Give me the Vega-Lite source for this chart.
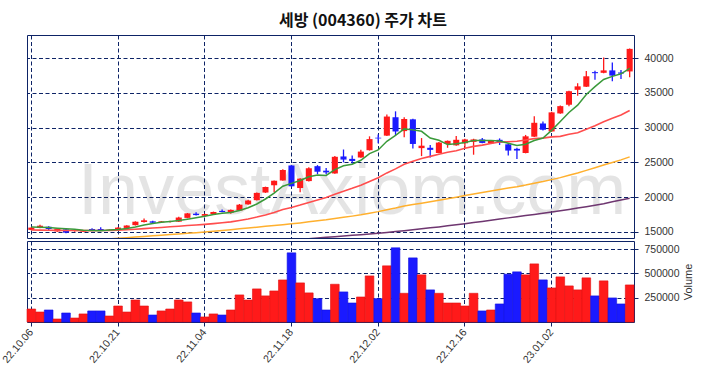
{
  "$schema": "https://vega.github.io/schema/vega-lite/v6.json",
  "padding": {"left": 0, "top": 12, "right": 2, "bottom": 2},
  "title": {"text": "세방 (004360) 주가 차트", "anchor": "middle", "dx": 16, "font": "Noto Sans CJK KR", "fontSize": 16, "fontWeight": "bold", "color": "#111", "offset": 6},
  "config": {
    "view": {"stroke": "#0d2366", "strokeWidth": 1},
    "axis": {"labelFont": "Liberation Sans", "labelFontSize": 10.5, "labelColor": "#333", "gridColor": "#0d2366", "gridDash": [4, 2.5], "gridWidth": 1, "gridOpacity": 1, "domain": false, "tickColor": "#0d2366", "titleFont": "Liberation Sans", "titleFontWeight": "normal", "titleFontSize": 11, "titleColor": "#333"}
  },
  "datasets": {
    "px": [
      {"d":"22.10.06","o":15270,"h":15650,"l":15200,"c":15600,"v":134000,"m5":15700,"m20":15250,"m60":null,"m120":null},
      {"d":"22.10.07","o":15550,"h":16000,"l":15500,"c":15870,"v":103000,"m5":15650,"m20":15230,"m60":null,"m120":null},
      {"d":"22.10.11","o":15720,"h":15800,"l":15150,"c":15400,"v":124000,"m5":15600,"m20":15210,"m60":null,"m120":null},
      {"d":"22.10.12","o":15050,"h":15500,"l":15000,"c":15450,"v":31000,"m5":15520,"m20":15200,"m60":null,"m120":null},
      {"d":"22.10.13","o":15340,"h":15400,"l":14800,"c":14870,"v":93000,"m5":15438,"m20":15180,"m60":null,"m120":null},
      {"d":"22.10.14","o":15100,"h":15300,"l":15000,"c":15250,"v":41000,"m5":15368,"m20":15170,"m60":null,"m120":null},
      {"d":"22.10.17","o":15000,"h":15200,"l":14950,"c":15150,"v":83000,"m5":15224,"m20":15160,"m60":null,"m120":null},
      {"d":"22.10.18","o":15400,"h":15500,"l":15200,"c":15250,"v":114000,"m5":15194,"m20":15160,"m60":null,"m120":null},
      {"d":"22.10.19","o":15400,"h":15650,"l":15200,"c":15250,"v":114000,"m5":15154,"m20":15170,"m60":13880,"m120":null},
      {"d":"22.10.20","o":15200,"h":15350,"l":15150,"c":15300,"v":62000,"m5":15240,"m20":15190,"m60":13970,"m120":null},
      {"d":"22.10.21","o":15250,"h":15650,"l":15200,"c":15600,"v":165000,"m5":15310,"m20":15230,"m60":14060,"m120":null},
      {"d":"22.10.24","o":15550,"h":15950,"l":15500,"c":15900,"v":103000,"m5":15460,"m20":15290,"m60":14150,"m120":null},
      {"d":"22.10.25","o":15950,"h":16500,"l":15900,"c":16450,"v":227000,"m5":15700,"m20":15370,"m60":14240,"m120":null},
      {"d":"22.10.26","o":16400,"h":16900,"l":16350,"c":16650,"v":165000,"m5":15980,"m20":15450,"m60":14330,"m120":null},
      {"d":"22.10.27","o":16500,"h":16600,"l":16100,"c":16300,"v":72000,"m5":16180,"m20":15530,"m60":14420,"m120":null},
      {"d":"22.10.28","o":16350,"h":16550,"l":16300,"c":16500,"v":114000,"m5":16360,"m20":15620,"m60":14510,"m120":null},
      {"d":"22.10.31","o":16400,"h":16600,"l":16350,"c":16550,"v":134000,"m5":16490,"m20":15710,"m60":14600,"m120":null},
      {"d":"22.11.01","o":16450,"h":17150,"l":16400,"c":17050,"v":227000,"m5":16610,"m20":15800,"m60":14690,"m120":null},
      {"d":"22.11.02","o":17000,"h":17700,"l":16950,"c":17650,"v":207000,"m5":16810,"m20":15890,"m60":14780,"m120":null},
      {"d":"22.11.03","o":17600,"h":17800,"l":17350,"c":17400,"v":93000,"m5":17030,"m20":15972,"m60":14870,"m120":null},
      {"d":"22.11.04","o":17300,"h":17600,"l":17250,"c":17550,"v":52000,"m5":17240,"m20":16070,"m60":14960,"m120":null},
      {"d":"22.11.07","o":17550,"h":17900,"l":17500,"c":17850,"v":83000,"m5":17500,"m20":16169,"m60":15075,"m120":null},
      {"d":"22.11.08","o":18000,"h":18200,"l":17800,"c":17850,"v":72000,"m5":17660,"m20":16291,"m60":15190,"m120":null},
      {"d":"22.11.09","o":17750,"h":18200,"l":17600,"c":18150,"v":124000,"m5":17760,"m20":16426,"m60":15305,"m120":null},
      {"d":"22.11.10","o":18050,"h":19000,"l":18000,"c":18900,"v":279000,"m5":18060,"m20":16628,"m60":15420,"m120":null},
      {"d":"22.11.11","o":18950,"h":19600,"l":18900,"c":19500,"v":227000,"m5":18450,"m20":16840,"m60":15540,"m120":null},
      {"d":"22.11.14","o":19550,"h":20650,"l":19500,"c":20600,"v":341000,"m5":19000,"m20":17113,"m60":15660,"m120":null},
      {"d":"22.11.15","o":20650,"h":21500,"l":20600,"c":21450,"v":269000,"m5":19720,"m20":17423,"m60":15780,"m120":null},
      {"d":"22.11.16","o":21700,"h":22400,"l":20700,"c":22350,"v":320000,"m5":20560,"m20":17778,"m60":15900,"m120":null},
      {"d":"22.11.17","o":22400,"h":24000,"l":22350,"c":23900,"v":434000,"m5":21560,"m20":18208,"m60":16020,"m120":null},
      {"d":"22.11.18","o":24550,"h":24600,"l":21500,"c":21550,"v":713000,"m5":21970,"m20":18505,"m60":16138,"m120":13810},
      {"d":"22.11.21","o":21300,"h":22700,"l":20700,"c":22650,"v":403000,"m5":22380,"m20":18843,"m60":16269,"m120":13905},
      {"d":"22.11.22","o":22300,"h":24300,"l":22250,"c":24150,"v":300000,"m5":22920,"m20":19228,"m60":16425,"m120":14000},
      {"d":"22.11.23","o":24450,"h":24600,"l":23300,"c":23650,"v":240000,"m5":23180,"m20":19578,"m60":16572,"m120":14100},
      {"d":"22.11.24","o":23800,"h":24200,"l":23300,"c":23550,"v":124000,"m5":23110,"m20":19940,"m60":16718,"m120":14195},
      {"d":"22.11.25","o":23400,"h":25900,"l":23350,"c":25800,"v":389000,"m5":23960,"m20":20405,"m60":16902,"m120":14290},
      {"d":"22.11.28","o":25850,"h":26850,"l":25000,"c":25400,"v":310000,"m5":24510,"m20":20848,"m60":17078,"m120":14385},
      {"d":"22.11.29","o":25500,"h":26000,"l":24800,"c":25200,"v":196000,"m5":24720,"m20":21255,"m60":17252,"m120":14480},
      {"d":"22.11.30","o":25700,"h":26800,"l":25650,"c":26550,"v":258000,"m5":25300,"m20":21700,"m60":17447,"m120":14580},
      {"d":"22.12.01","o":26750,"h":28750,"l":26700,"c":28350,"v":475000,"m5":26260,"m20":22248,"m60":17673,"m120":14680},
      {"d":"22.12.02","o":28550,"h":29000,"l":27750,"c":28450,"v":241000,"m5":26790,"m20":22793,"m60":17901,"m120":14780},
      {"d":"22.12.05","o":28850,"h":31900,"l":28800,"c":31600,"v":579000,"m5":28030,"m20":23480,"m60":18181,"m120":14890},
      {"d":"22.12.06","o":31500,"h":32350,"l":28900,"c":29450,"v":765000,"m5":28880,"m20":24060,"m60":18425,"m120":15020},
      {"d":"22.12.07","o":29500,"h":31500,"l":28600,"c":31250,"v":296000,"m5":29820,"m20":24715,"m60":18699,"m120":15150},
      {"d":"22.12.08","o":31200,"h":31300,"l":27000,"c":27650,"v":661000,"m5":29680,"m20":25153,"m60":18913,"m120":15280},
      {"d":"22.12.09","o":27050,"h":28500,"l":25900,"c":27400,"v":486000,"m5":29470,"m20":25548,"m60":19123,"m120":15420},
      {"d":"22.12.12","o":27100,"h":27500,"l":25700,"c":26800,"v":331000,"m5":28510,"m20":25858,"m60":19323,"m120":15560},
      {"d":"22.12.13","o":26350,"h":27950,"l":26300,"c":27850,"v":296000,"m5":28190,"m20":26178,"m60":19541,"m120":15700},
      {"d":"22.12.14","o":27650,"h":28150,"l":27100,"c":28100,"v":196000,"m5":27560,"m20":26465,"m60":19762,"m120":15850},
      {"d":"22.12.15","o":27450,"h":28800,"l":27400,"c":28250,"v":196000,"m5":27680,"m20":26683,"m60":19987,"m120":16000},
      {"d":"22.12.16","o":27750,"h":28400,"l":27000,"c":28300,"v":165000,"m5":27860,"m20":27020,"m60":20212,"m120":16160},
      {"d":"22.12.19","o":27950,"h":28400,"l":26100,"c":28300,"v":296000,"m5":28160,"m20":27303,"m60":20437,"m120":16320},
      {"d":"22.12.20","o":28300,"h":28500,"l":27750,"c":27800,"v":114000,"m5":28150,"m20":27485,"m60":20653,"m120":16490},
      {"d":"22.12.21","o":27750,"h":28150,"l":27700,"c":28100,"v":124000,"m5":28150,"m20":27708,"m60":20875,"m120":16660},
      {"d":"22.12.22","o":28250,"h":28450,"l":27500,"c":27850,"v":186000,"m5":28070,"m20":27923,"m60":21092,"m120":16830},
      {"d":"22.12.23","o":27600,"h":27700,"l":26000,"c":26700,"v":493000,"m5":27750,"m20":27968,"m60":21291,"m120":17000},
      {"d":"22.12.26","o":26950,"h":27100,"l":25500,"c":26700,"v":517000,"m5":27430,"m20":28033,"m60":21489,"m120":17165},
      {"d":"22.12.27","o":26350,"h":28950,"l":26300,"c":28750,"v":486000,"m5":27620,"m20":28210,"m60":21722,"m120":17330},
      {"d":"22.12.28","o":28700,"h":31650,"l":28650,"c":30700,"v":599000,"m5":28140,"m20":28418,"m60":21987,"m120":17500},
      {"d":"22.12.29","o":30600,"h":30900,"l":29600,"c":29700,"v":434000,"m5":28510,"m20":28485,"m60":22235,"m120":17670},
      {"d":"23.01.02","o":29450,"h":32300,"l":29400,"c":32200,"v":351000,"m5":29610,"m20":28673,"m60":22512,"m120":17840},
      {"d":"23.01.03","o":32050,"h":33200,"l":32000,"c":33100,"v":465000,"m5":30890,"m20":28748,"m60":22799,"m120":18030},
      {"d":"23.01.04","o":33300,"h":35300,"l":33100,"c":35250,"v":372000,"m5":32190,"m20":29038,"m60":23130,"m120":18220},
      {"d":"23.01.05","o":35450,"h":36400,"l":34600,"c":35950,"v":331000,"m5":33240,"m20":29273,"m60":23471,"m120":18410},
      {"d":"23.01.06","o":35900,"h":38150,"l":35850,"c":37400,"v":455000,"m5":34780,"m20":29760,"m60":23847,"m120":18600},
      {"d":"23.01.09","o":38000,"h":38200,"l":36900,"c":37850,"v":269000,"m5":35910,"m20":30283,"m60":24223,"m120":18810},
      {"d":"23.01.10","o":37900,"h":40100,"l":37850,"c":38250,"v":424000,"m5":36940,"m20":30855,"m60":24608,"m120":19030},
      {"d":"23.01.11","o":38250,"h":39400,"l":36700,"c":37500,"v":248000,"m5":37390,"m20":31338,"m60":24979,"m120":19330},
      {"d":"23.01.12","o":37950,"h":38300,"l":37000,"c":37800,"v":186000,"m5":37760,"m20":31823,"m60":25355,"m120":19570},
      {"d":"23.01.13","o":38100,"h":41400,"l":37250,"c":41350,"v":382000,"m5":38550,"m20":32478,"m60":25789,"m120":19820}
    ]
  },
  "spacing": 1,
  "vconcat": [
    {
      "width": 607,
      "height": 203,
      "data": {"name": "px"},
      "encoding": {
        "x": {"field": "d", "type": "ordinal", "sort": "ascending", "scale": {"paddingInner": 0, "paddingOuter": 0},
              "axis": {"title": null, "labels": false, "ticks": false, "grid": true,
                       "values": ["22.10.06","22.10.21","22.11.04","22.11.18","22.12.02","22.12.16","23.01.02"]}}
      },
      "layer": [
        {
          "transform": [{"filter": "datum.d == '22.11.29'"}],
          "mark": {"type": "text", "text": "InvestAxiom.com", "clip": true, "font": "Liberation Sans", "fontSize": 72, "color": "#000", "opacity": 0.1, "align": "center", "baseline": "alphabetic"},
          "encoding": {
            "y": {"datum": 17600, "type": "quantitative", "scale": {"domain": [14100, 43350], "nice": false, "zero": false},
                  "axis": {"orient": "right", "title": null, "grid": true, "values": [15000, 20000, 25000, 30000, 35000, 40000], "format": "d", "tickSize": 4, "labelPadding": 6}}
          }
        },
        {
          "mark": {"type": "rule", "strokeWidth": 1.3},
          "encoding": {
            "y": {"field": "l", "type": "quantitative",
                  "axis": {"orient": "right", "title": null, "grid": true, "values": [15000, 20000, 25000, 30000, 35000, 40000], "format": "d", "tickSize": 4, "labelPadding": 6}},
            "y2": {"field": "h"},
            "color": {"condition": {"test": "datum.c >= datum.o", "value": "#ff1a1a"}, "value": "#1a1aff"}
          }
        },
        {
          "mark": {"type": "bar", "width": {"band": 0.7}},
          "encoding": {
            "y": {"field": "o", "type": "quantitative"},
            "y2": {"field": "c"},
            "color": {"condition": {"test": "datum.c >= datum.o", "value": "#ff1a1a"}, "value": "#1a1aff"}
          }
        },
        {
          "transform": [{"filter": "datum.m120 != null"}],
          "mark": {"type": "line", "color": "#6e3670", "strokeWidth": 1.5, "clip": true},
          "encoding": {"y": {"field": "m120", "type": "quantitative"}}
        },
        {
          "transform": [{"filter": "datum.m60 != null"}],
          "mark": {"type": "line", "color": "#ffb02e", "strokeWidth": 1.5, "clip": true},
          "encoding": {"y": {"field": "m60", "type": "quantitative"}}
        },
        {
          "mark": {"type": "line", "color": "#ff4d4d", "strokeWidth": 1.6, "clip": true},
          "encoding": {"y": {"field": "m20", "type": "quantitative"}}
        },
        {
          "mark": {"type": "line", "color": "#3a9a3a", "strokeWidth": 1.5, "clip": true},
          "encoding": {"y": {"field": "m5", "type": "quantitative"}}
        }
      ]
    },
    {
      "width": 607,
      "height": 81,
      "data": {"name": "px"},
      "mark": {"type": "bar", "strokeWidth": 0.6},
      "encoding": {
        "x": {"field": "d", "type": "ordinal", "sort": "ascending", "scale": {"paddingInner": 0, "paddingOuter": 0},
              "axis": {"title": null, "grid": true, "labelAngle": -50, "tickSize": 4, "labelFontSize": 10.5, "labelPadding": 4,
                       "values": ["22.10.06","22.10.21","22.11.04","22.11.18","22.12.02","22.12.16","23.01.02"]}},
        "y": {"field": "v", "type": "quantitative", "scale": {"domain": [0, 835000], "nice": false},
              "axis": {"orient": "right", "title": "Volume", "titleAngle": 270, "values": [250000, 500000, 750000], "format": "d", "tickSize": 4, "labelPadding": 6, "titlePadding": 14}},
        "color": {"condition": {"test": "datum.c >= datum.o", "value": "#ff1a1a"}, "value": "#1a1aff"},
        "stroke": {"condition": {"test": "datum.c >= datum.o", "value": "#e01010"}, "value": "#1010e0"}
      }
    }
  ]
}
